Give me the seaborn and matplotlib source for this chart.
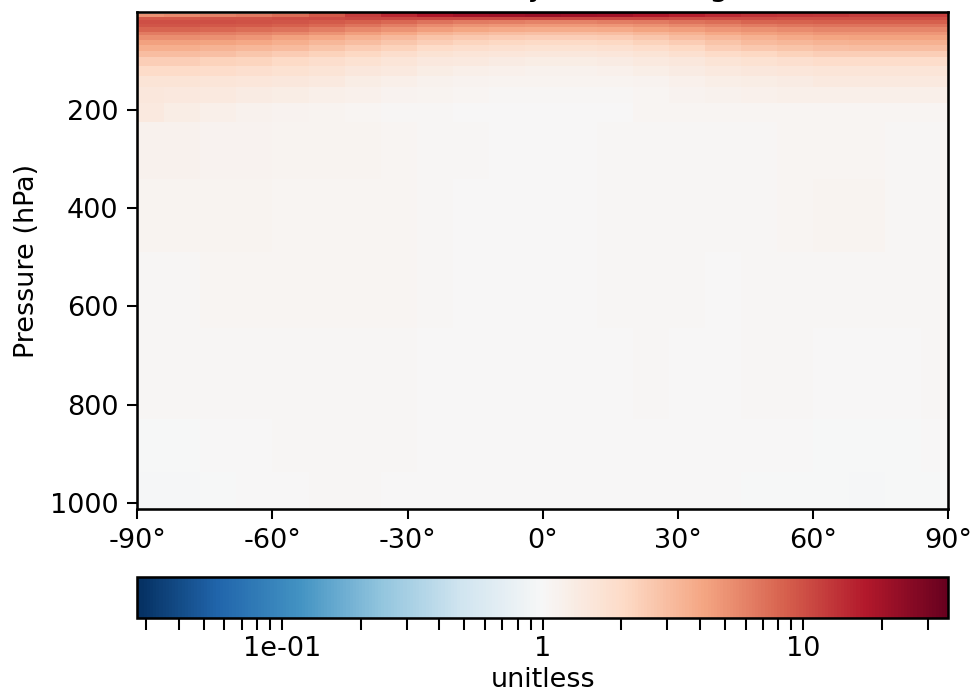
import matplotlib
matplotlib.use("Agg")
import matplotlib.pyplot as plt
import numpy as np
import seaborn as sns
from matplotlib.colors import LogNorm

# latitude cell edges (deg) and pressure cell edges (hPa, top -> surface)
lat_edges = [-90, -84, -76, -68, -60, -52, -44, -36, -28, -20, -12, -4,
             4, 12, 20, 28, 36, 44, 52, 60, 68, 76, 84, 90]
pressure_edges = [0.01, 5, 10, 17, 24, 31, 41, 48, 58, 67, 79, 92, 110, 130,
                  154, 185, 225, 340, 490, 645, 830, 937, 1013.25]

# ratio (unitless), one row per pressure layer, one value per latitude cell
ratio = [
    [1.8, 1.9, 2.0, 2.3, 3.0, 7, 12, 18, 24, 30, 33, 34, 33, 31, 27, 22, 18, 16, 14, 13, 12.5, 12, 12],
    [5, 5.5, 6, 6.5, 7.5, 9, 12, 15, 18, 20, 21, 22, 21, 20, 18, 16, 14.5, 13.5, 13, 12.5, 12, 12, 12],
    [9, 9, 9.5, 9.5, 10, 10.5, 11, 11, 11, 11, 11, 11, 11, 11, 11, 10.5, 10.5, 10.5, 10, 10, 10, 10, 10],
    [10, 10, 10, 9.8, 9.5, 9, 8.5, 7.8, 7, 6.5, 6.2, 6, 6, 6.2, 6.5, 7, 7.5, 8, 8.3, 8.5, 8.5, 8.5, 8.5],
    [9.5, 9.5, 9.3, 9, 8.5, 7.8, 7, 6.2, 5.5, 5, 4.8, 4.7, 4.7, 4.9, 5.2, 5.6, 6, 6.4, 6.8, 7, 7, 7, 7],
    [8, 8, 7.8, 7.5, 7, 6.3, 5.6, 5, 4.5, 4.1, 3.9, 3.8, 3.8, 3.9, 4.2, 4.5, 4.9, 5.2, 5.5, 5.8, 5.8, 5.8, 5.8],
    [6.5, 6.5, 6.3, 6, 5.6, 5, 4.5, 4, 3.5, 3.2, 3.0, 2.9, 2.9, 3.0, 3.3, 3.6, 4, 4.3, 4.6, 4.9, 4.9, 4.9, 4.9],
    [5.3, 5.3, 5.1, 4.8, 4.4, 4, 3.6, 3.2, 2.8, 2.6, 2.5, 2.4, 2.4, 2.5, 2.7, 3, 3.3, 3.6, 3.9, 4.1, 4.2, 4.2, 4.2],
    [4.4, 4.4, 4.2, 4, 3.7, 3.3, 3, 2.7, 2.4, 2.2, 2.1, 2.05, 2.05, 2.1, 2.3, 2.5, 2.8, 3.1, 3.3, 3.5, 3.6, 3.6, 3.6],
    [3.7, 3.7, 3.5, 3.3, 3.1, 2.8, 2.5, 2.3, 2.0, 1.9, 1.8, 1.75, 1.75, 1.8, 1.95, 2.1, 2.4, 2.6, 2.8, 2.9, 3.0, 3.0, 3.0],
    [3.0, 3.0, 2.9, 2.7, 2.5, 2.3, 2.1, 1.9, 1.7, 1.6, 1.55, 1.5, 1.5, 1.55, 1.65, 1.8, 2.0, 2.1, 2.3, 2.4, 2.4, 2.4, 2.4],
    [2.4, 2.4, 2.3, 2.2, 2.05, 1.9, 1.75, 1.6, 1.45, 1.4, 1.35, 1.32, 1.32, 1.35, 1.42, 1.52, 1.65, 1.75, 1.85, 1.95, 1.95, 1.95, 1.95],
    [2.0, 2.0, 1.95, 1.85, 1.75, 1.62, 1.5, 1.4, 1.3, 1.25, 1.2, 1.18, 1.18, 1.2, 1.26, 1.33, 1.42, 1.5, 1.55, 1.6, 1.6, 1.6, 1.6],
    [1.65, 1.65, 1.6, 1.55, 1.48, 1.4, 1.32, 1.25, 1.18, 1.13, 1.1, 1.09, 1.09, 1.1, 1.14, 1.2, 1.26, 1.32, 1.36, 1.4, 1.4, 1.4, 1.4],
    [1.5, 1.45, 1.4, 1.36, 1.3, 1.25, 1.2, 1.15, 1.1, 1.07, 1.05, 1.04, 1.04, 1.05, 1.08, 1.12, 1.16, 1.2, 1.23, 1.25, 1.25, 1.25, 1.25],
    [1.4, 1.32, 1.25, 1.18, 1.13, 1.1, 1.07, 1.05, 1.03, 1.02, 1.0, 1.0, 1.01, 1.02, 1.06, 1.07, 1.06, 1.07, 1.08, 1.08, 1.08, 1.08, 1.08],
    [1.18, 1.16, 1.14, 1.12, 1.11, 1.1, 1.09, 1.08, 1.05, 1.03, 1.0, 1.0, 1.02, 1.04, 1.04, 1.05, 1.05, 1.04, 1.06, 1.07, 1.07, 1.05, 1.05],
    [1.1, 1.1, 1.09, 1.09, 1.08, 1.08, 1.08, 1.07, 1.04, 1.02, 1.0, 1.0, 1.02, 1.03, 1.04, 1.04, 1.03, 1.04, 1.08, 1.1, 1.09, 1.05, 1.04],
    [1.05, 1.05, 1.06, 1.07, 1.07, 1.07, 1.07, 1.06, 1.04, 1.02, 1.0, 1.0, 1.01, 1.03, 1.04, 1.03, 1.02, 1.03, 1.04, 1.04, 1.04, 1.04, 1.04],
    [1.03, 1.03, 1.04, 1.04, 1.05, 1.05, 1.05, 1.04, 1.02, 1.01, 1.0, 1.0, 1.0, 1.02, 1.03, 1.02, 1.02, 1.03, 1.03, 1.02, 1.02, 1.02, 1.03],
    [0.98, 0.99, 1.0, 1.02, 1.03, 1.04, 1.04, 1.03, 1.01, 1.0, 1.0, 1.0, 1.0, 1.01, 1.02, 1.02, 1.01, 1.0, 1.0, 0.99, 0.98, 0.99, 1.0],
    [0.96, 0.97, 0.98, 1.0, 1.02, 1.03, 1.03, 1.02, 1.01, 1.0, 1.0, 1.0, 1.0, 1.0, 1.01, 1.01, 1.0, 0.99, 0.99, 0.98, 0.97, 0.98, 0.99],
]

lat_ticks = [-90, -60, -30, 0, 30, 60, 90]
lat_labels = ["-90°", "-60°", "-30°", "0°", "30°", "60°", "90°"]
pres_ticks = [200, 400, 600, 800, 1000]
cbar_ticks = [0.03, 0.04, 0.05, 0.06, 0.07, 0.08, 0.09,
              0.1, 0.2, 0.3, 0.4, 0.5, 0.6, 0.7, 0.8, 0.9,
              1, 2, 3, 4, 5, 6, 7, 8, 9, 10, 20, 30]
cbar_labeled = {0.1: "1e-01", 1: "1", 10: "10"}
vmax = 36.0

fs = 10.5
sns.set_style("ticks", {"axes.edgecolor": "black", "text.color": "black",
                        "axes.labelcolor": "black", "xtick.color": "black",
                        "ytick.color": "black"})
plt.rcParams["font.family"] = ["DejaVu Sans"]
plt.rcParams["font.size"] = fs
plt.rcParams["axes.linewidth"] = 1.0
for k in ("xtick", "ytick"):
    plt.rcParams[k + ".major.size"] = 3.8
    plt.rcParams[k + ".major.width"] = 0.8
    plt.rcParams[k + ".labelsize"] = fs

dpi = 185
fig = plt.figure(figsize=(973 / dpi, 697 / dpi), dpi=dpi)
ax = fig.add_axes([137.3 / 973, 1 - 509.3 / 697, 811 / 973, 497.5 / 697])
cax = fig.add_axes([137.3 / 973, 1 - 618 / 697, 811 / 973, 41 / 697])

cmap = sns.color_palette("RdBu_r", as_cmap=True)
norm = LogNorm(vmin=1 / vmax, vmax=vmax)
mesh = ax.pcolormesh(lat_edges, pressure_edges, np.array(ratio), cmap=cmap, norm=norm)
ax.set_xlim(-90, 90)
ax.set_ylim(1013.25, 0.01)
ax.set_xticks(lat_ticks)
ax.set_xticklabels(lat_labels)
ax.set_yticks(pres_ticks)
ax.set_ylabel("Pressure (hPa)", fontsize=fs)

cb = fig.colorbar(mesh, cax=cax, orientation="horizontal")
cb.set_ticks(cbar_ticks)
cb.set_ticklabels([cbar_labeled.get(t, "") for t in cbar_ticks])
cb.ax.minorticks_off()
cb.ax.tick_params(length=4.5, width=0.8, colors="black", labelsize=fs, pad=2.5)
cb.set_label("unitless", fontsize=fs, labelpad=2)
cb.outline.set_linewidth(1.0)
cb.outline.set_edgecolor("black")

# title sits mostly above the canvas, only the descenders show
fig.text((137.3 + 405.5) / 973, 1 + 4 / 697, "Mean Ratio by Model Height",
         ha="center", va="baseline", fontsize=12, color="black")

fig.savefig("out.png", dpi=dpi)
